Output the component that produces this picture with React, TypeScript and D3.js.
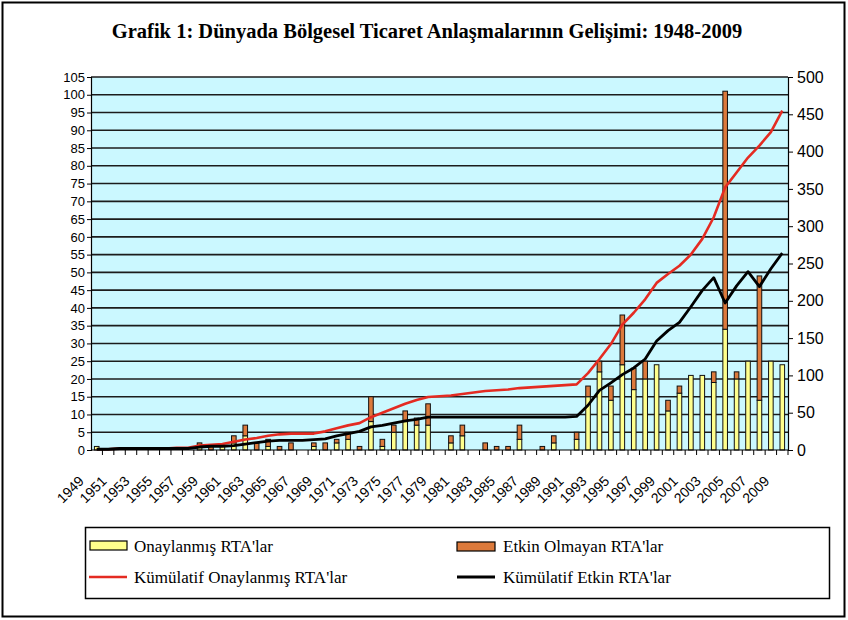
import React, { useEffect, useRef } from "react";
import * as d3 from "d3";

const WIDTH = 848;
const HEIGHT = 620;
const PLOT = { LEFT: 91, RIGHT: 788, TOP: 77, BOTTOM: 450 };

const TITLE = "Grafik 1: Dünyada Bölgesel Ticaret Anlaşmalarının Gelişimi: 1948-2009";

const years = [
  1949, 1950, 1951, 1952, 1953, 1954, 1955, 1956, 1957, 1958,
  1959, 1960, 1961, 1962, 1963, 1964, 1965, 1966, 1967, 1968,
  1969, 1970, 1971, 1972, 1973, 1974, 1975, 1976, 1977, 1978,
  1979, 1980, 1981, 1982, 1983, 1984, 1985, 1986, 1987, 1988,
  1989, 1990, 1991, 1992, 1993, 1994, 1995, 1996, 1997, 1998,
  1999, 2000, 2001, 2002, 2003, 2004, 2005, 2006, 2007, 2008,
  2009,
];

// yellow part of each bar (left axis)
const notifiedRTAs = [
  1, 0, 0, 0, 0, 0, 0, 0, 0, 1,
  0, 1, 2, 4, 0, 1, 0, 0, 0, 1,
  0, 2, 3, 0, 8, 1, 5, 8, 7, 7,
  0, 2, 4, 0, 0, 0, 0, 3, 0, 0,
  2, 0, 3, 15, 22, 14, 24, 17, 20, 24,
  11, 16, 21, 21, 19, 34, 20, 25, 14, 25,
  24,
];

// orange part stacked on top (left axis)
const inactiveRTAs = [
  0, 0, 0, 0, 0, 0, 0, 0, 0, 1,
  1, 0, 2, 3, 2, 2, 1, 2, 0, 1,
  2, 1, 2, 1, 7, 2, 2, 3, 2, 6,
  0, 2, 3, 0, 2, 1, 1, 4, 0, 1,
  2, 0, 2, 3, 3, 4, 14, 6, 5, 0,
  3, 2, 0, 0, 3, 67, 2, 0, 35, 0,
  0,
];

// red line (right axis)
const cumulativeNotified = [
  1, 1, 2, 2, 2, 2, 2, 3, 3, 6,
  7, 8, 11, 14, 16, 19, 21, 22, 22, 22,
  25, 29, 33, 36, 44, 50, 56, 62, 67, 71,
  72, 73, 75, 77, 79, 80, 81, 83, 84, 85,
  86, 87, 88, 103, 122, 142, 168, 184, 202, 224,
  236, 247, 262, 283, 312, 352, 372, 392, 408, 426,
  455,
];

// black line (right axis)
const cumulativeInForce = [
  1, 1, 2, 2, 2, 2, 2, 2, 2, 4,
  5, 5, 6, 8, 10, 12, 13, 13, 13, 14,
  15, 19, 22, 25, 31, 33, 36, 39, 41, 44,
  44, 44, 44, 44, 44, 44, 44, 44, 44, 44,
  44, 44, 45, 60, 80, 90, 101, 110, 122, 146,
  160, 171, 192, 214, 231, 197, 220, 239, 219, 243,
  264,
];

const leftTicks = [0, 5, 10, 15, 20, 25, 30, 35, 40, 45, 50, 55, 60, 65, 70, 75, 80, 85, 90, 95, 100, 105];
const rightTicks = [0, 50, 100, 150, 200, 250, 300, 350, 400, 450, 500];

const YELLOW = "#ffff8c";
const ORANGE = "#dc7a3c";
const RED = "#e42b22";
const SERIF = "Liberation Serif, Times New Roman, serif";
const SANS = "Arial, Liberation Sans, sans-serif";

const App: React.FC = () => {
  const chartRef = useRef<SVGGElement | null>(null);

  useEffect(() => {
    const g = d3.select(chartRef.current);
    g.selectAll("*").remove();

    const x = d3.scaleBand<number>().domain(years).range([PLOT.LEFT, PLOT.RIGHT]);
    const yLeft = d3.scaleLinear().domain([0, 105]).range([PLOT.BOTTOM, PLOT.TOP]);
    const yRight = d3.scaleLinear().domain([0, 500]).range([PLOT.BOTTOM, PLOT.TOP]);
    const cx = (yr: number) => x(yr)! + x.bandwidth() / 2;

    g.append("rect")
      .attr("x", PLOT.LEFT)
      .attr("y", PLOT.TOP)
      .attr("width", PLOT.RIGHT - PLOT.LEFT)
      .attr("height", PLOT.BOTTOM - PLOT.TOP)
      .attr("fill", "#cbf8ff");

    // horizontal gridlines every 5 on the left axis
    g.append("g")
      .selectAll("line")
      .data(leftTicks.filter((t) => t > 0))
      .join("line")
      .attr("x1", PLOT.LEFT)
      .attr("x2", PLOT.RIGHT)
      .attr("y1", (d) => yLeft(d))
      .attr("y2", (d) => yLeft(d))
      .attr("stroke", "#1c1c1c")
      .attr("stroke-width", 1.6);

    const rows = years.map((yr, i) => ({ yr, a: notifiedRTAs[i], b: inactiveRTAs[i] }));
    const barW = 4.6;

    g.append("g")
      .selectAll("rect")
      .data(rows.filter((r) => r.a > 0))
      .join("rect")
      .attr("x", (d) => cx(d.yr) - barW / 2)
      .attr("y", (d) => yLeft(d.a))
      .attr("width", barW)
      .attr("height", (d) => yLeft(0) - yLeft(d.a))
      .attr("fill", YELLOW)
      .attr("stroke", "#111")
      .attr("stroke-width", 1);

    g.append("g")
      .selectAll("rect")
      .data(rows.filter((r) => r.b > 0))
      .join("rect")
      .attr("x", (d) => cx(d.yr) - barW / 2)
      .attr("y", (d) => yLeft(d.a + d.b))
      .attr("width", barW)
      .attr("height", (d) => yLeft(d.a) - yLeft(d.a + d.b))
      .attr("fill", ORANGE)
      .attr("stroke", "#111")
      .attr("stroke-width", 1);

    const line = d3
      .line<number>()
      .x((d, i) => cx(years[i]))
      .y((d) => yRight(d));

    g.append("path")
      .datum(cumulativeNotified)
      .attr("d", line)
      .attr("fill", "none")
      .attr("stroke", RED)
      .attr("stroke-width", 2.6)
      .attr("stroke-linejoin", "round");

    g.append("path")
      .datum(cumulativeInForce)
      .attr("d", line)
      .attr("fill", "none")
      .attr("stroke", "#000")
      .attr("stroke-width", 2.8)
      .attr("stroke-linejoin", "round");

    // axes
    const leftAxis = g
      .append("g")
      .attr("transform", `translate(${PLOT.LEFT},0)`)
      .call(d3.axisLeft(yLeft).tickValues(leftTicks).tickSize(4).tickPadding(2) as any);
    leftAxis.selectAll("text").attr("font-size", 13).attr("font-family", SANS).attr("fill", "#000");

    const rightAxis = g
      .append("g")
      .attr("transform", `translate(${PLOT.RIGHT},0)`)
      .call(d3.axisRight(yRight).tickValues(rightTicks).tickSize(5).tickPadding(4) as any);
    rightAxis.selectAll("text").attr("font-size", 16).attr("font-family", SANS).attr("fill", "#000");
    g.selectAll(".domain").attr("stroke", "#000").attr("stroke-width", 1.2);
    g.selectAll(".tick line").attr("stroke", "#000");

    // bottom axis: ticks on category boundaries, rotated labels on odd years
    g.append("line")
      .attr("x1", PLOT.LEFT)
      .attr("x2", PLOT.RIGHT)
      .attr("y1", PLOT.BOTTOM)
      .attr("y2", PLOT.BOTTOM)
      .attr("stroke", "#000")
      .attr("stroke-width", 1.2);

    g.append("g")
      .selectAll("line")
      .data(years)
      .join("line")
      .attr("x1", (d) => x(d)! + x.bandwidth())
      .attr("x2", (d) => x(d)! + x.bandwidth())
      .attr("y1", PLOT.BOTTOM)
      .attr("y2", PLOT.BOTTOM + 5)
      .attr("stroke", "#000");

    g.append("g")
      .selectAll("text")
      .data(years.filter((d, i) => i % 2 === 0))
      .join("text")
      .attr("transform", (d) => `translate(${cx(d) - 12},${482}) rotate(-45)`)
      .attr("text-anchor", "end")
      .attr("font-size", 14)
      .attr("font-family", SANS)
      .text((d) => String(d));
  }, []);

  return (
    <svg
      width={WIDTH}
      height={HEIGHT}
      style={{ position: "absolute", left: 0, top: 0, background: "#fff" }}
    >
      <rect x={2.5} y={2.5} width={842} height={614} fill="#fff" stroke="#000" strokeWidth={2} />
      <text x={427} y={38} textAnchor="middle" fontFamily={SERIF} fontWeight="bold" fontSize={20.5}>
        {TITLE}
      </text>
      <g ref={chartRef} />
      <rect x={85.5} y={527.5} width={744} height={71} fill="#fff" stroke="#000" strokeWidth={1.5} />
      <rect x={90} y={541} width={37} height={9} fill={YELLOW} stroke="#000" strokeWidth={1.2} />
      <text x={134} y={552} fontFamily={SERIF} fontSize={17}>Onaylanmış RTA'lar</text>
      <rect x={457} y={542} width={38} height={9} fill={ORANGE} stroke="#000" strokeWidth={1.2} />
      <text x={503} y={552} fontFamily={SERIF} fontSize={17}>Etkin Olmayan RTA'lar</text>
      <line x1={89} x2={127} y1={577} y2={577} stroke={RED} strokeWidth={2.6} />
      <text x={134} y={583} fontFamily={SERIF} fontSize={17}>Kümülatif Onaylanmış RTA'lar</text>
      <line x1={457} x2={495} y1={577} y2={577} stroke="#000" strokeWidth={2.8} />
      <text x={503} y={583} fontFamily={SERIF} fontSize={17}>Kümülatif Etkin RTA'lar</text>
    </svg>
  );
};

export default App;
